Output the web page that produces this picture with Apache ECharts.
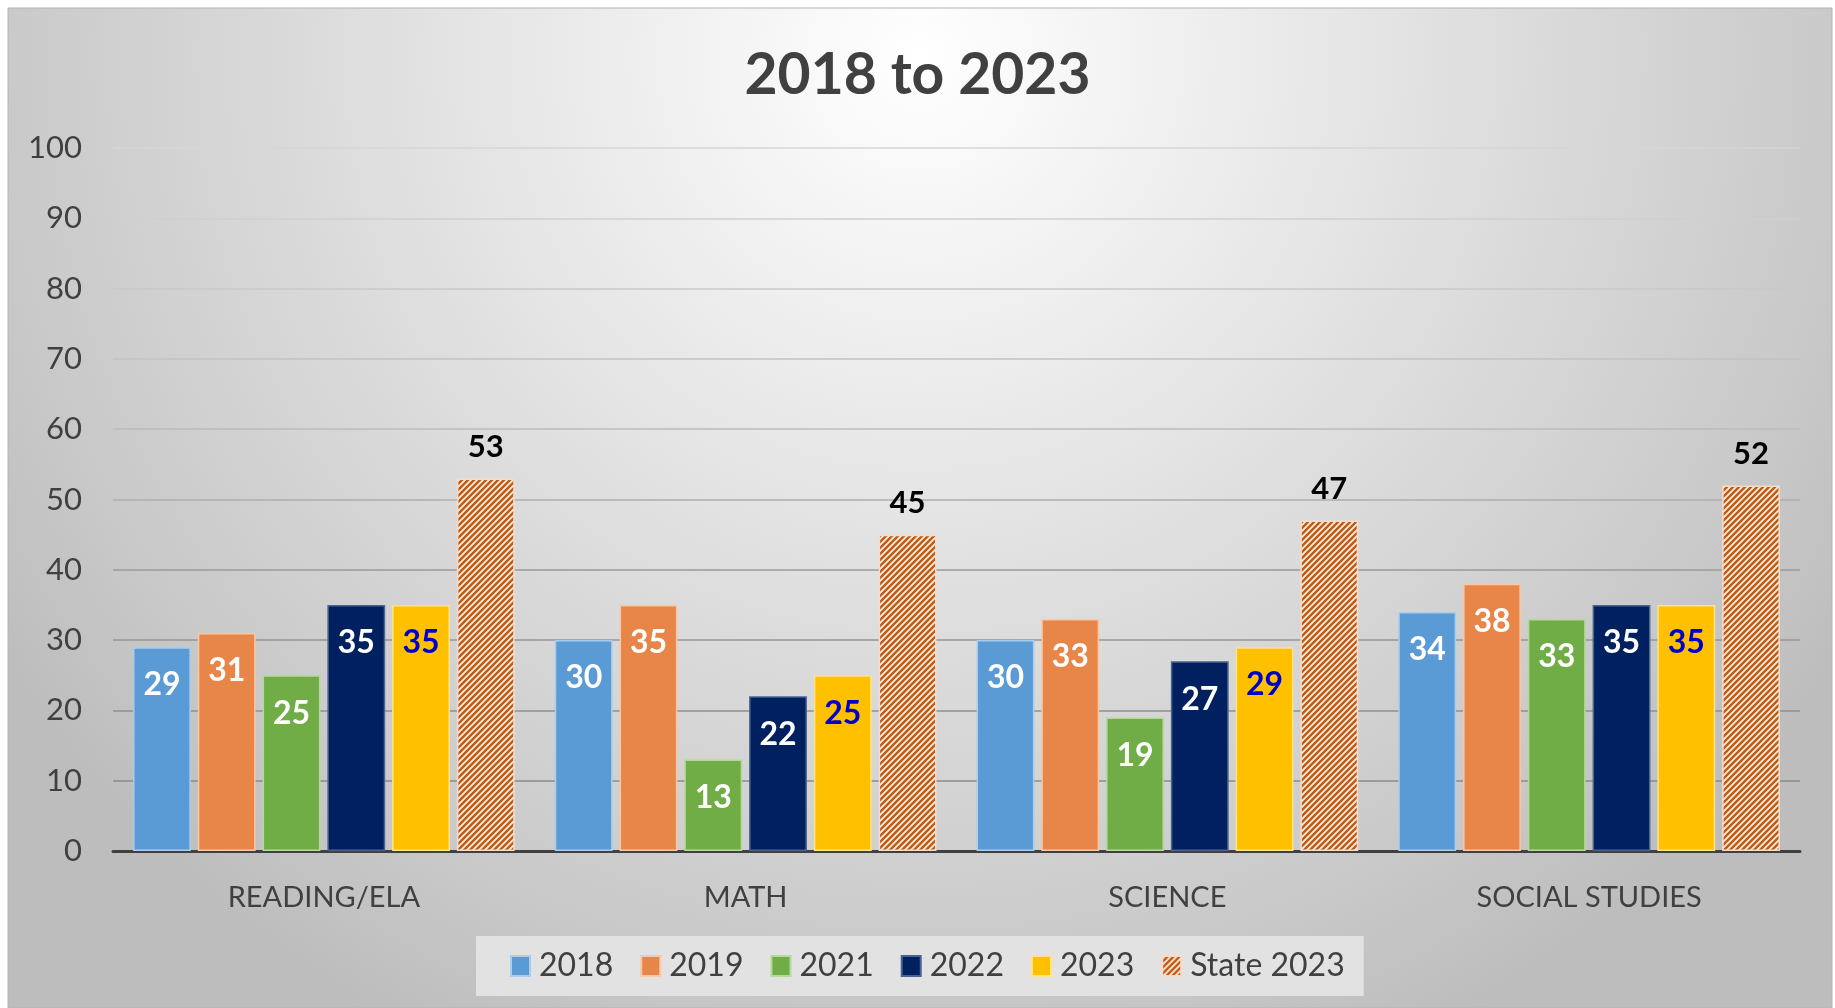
<!DOCTYPE html>
<html>
<head>
<meta charset="utf-8">
<title>2018 to 2023</title>
<script src="https://cdn.jsdelivr.net/npm/echarts@6/dist/echarts.min.js"></script>
<style>
  html, body { margin: 0; padding: 0; background: #ffffff; }
  #chart { width: 1835px; height: 1008px; }
</style>
</head>
<body>
<div id="chart"></div>
<script>
// Subjects along the x axis
const categories = ['READING/ELA', 'MATH', 'SCIENCE', 'SOCIAL STUDIES'];

// Percent proficient per year, one value per subject
const seriesNames = ['2018', '2019', '2021', '2022', '2023', 'State 2023'];
const values2018 = [29, 30, 30, 34];
const values2019 = [31, 35, 33, 38];
const values2021 = [25, 13, 19, 33];
const values2022 = [35, 22, 27, 35];
const values2023 = [35, 25, 29, 35];
const valuesState2023 = [53, 45, 47, 52];

// Value axis ticks
const yTicks = [0, 10, 20, 30, 40, 50, 60, 70, 80, 90, 100];

const FONT = 'Lato, "Open Sans", "Noto Sans", sans-serif';

// Diagonal hatch used for the state comparison bars
function makeHatch() {
  const s = 6;
  const c = document.createElement('canvas');
  c.width = s; c.height = s;
  const g = c.getContext('2d');
  g.fillStyle = '#fbeee4';
  g.fillRect(0, 0, s, s);
  g.strokeStyle = '#c55a11';
  g.lineWidth = 2.5;
  g.beginPath();
  g.moveTo(-1, s + 1); g.lineTo(s + 1, -1);
  g.moveTo(-1, 1); g.lineTo(1, -1);
  g.moveTo(s - 1, s + 1); g.lineTo(s + 1, s - 1);
  g.stroke();
  return c;
}
const hatch = { image: makeHatch(), repeat: 'repeat' };

const chart = echarts.init(document.getElementById('chart'), null, { renderer: 'canvas' });

function barSeries(name, data, color, border, labelColor) {
  return {
    name: name,
    type: 'bar',
    data: data,
    barGap: '12%',
    barCategoryGap: '9.5%',
    itemStyle: { color: color, borderColor: border, borderWidth: 1.5 },
    label: {
      show: true,
      position: 'insideTop',
      distance: 22,
      color: labelColor,
      fontFamily: FONT,
      fontWeight: 'bold',
      fontSize: 32
    },
    emphasis: { disabled: true }
  };
}

const series = [
  barSeries(seriesNames[0], values2018, '#5b9bd5', '#a9cdee', '#ffffff'),
  barSeries(seriesNames[1], values2019, '#e8864a', '#f7c7a6', '#ffffff'),
  barSeries(seriesNames[2], values2021, '#70ad47', '#b5d99b', '#ffffff'),
  barSeries(seriesNames[3], values2022, '#002060', '#4a6390', '#ffffff'),
  barSeries(seriesNames[4], values2023, '#ffc000', '#ffe38a', '#0000cc'),
  {
    name: seriesNames[5],
    type: 'bar',
    data: valuesState2023,
    barGap: '12%',
    barCategoryGap: '9.5%',
    itemStyle: { color: hatch, borderColor: '#f6dcc8', borderWidth: 1.5 },
    label: {
      show: true,
      position: 'top',
      distance: 16,
      color: '#000000',
      fontFamily: FONT,
      fontWeight: 'bold',
      fontSize: 31
    },
    emphasis: { disabled: true }
  }
];

const option = {
  animation: false,
  textStyle: { fontFamily: FONT },
  graphic: [{
    type: 'rect',
    z: -10,
    silent: true,
    shape: { x: 8, y: 8, width: 1824, height: 1000 },
    style: {
      fill: {
        type: 'radial', x: 0.5, y: 0.05, r: 1.1,
        colorStops: [
          { offset: 0, color: '#ffffff' },
          { offset: 0.85, color: '#c8c8c8' },
          { offset: 1, color: '#bdbdbd' }
        ]
      },
      stroke: '#b4b4b4',
      lineWidth: 1
    }
  }],
  title: {
    text: '2018 to 2023',
    left: 'center',
    top: 42,
    textStyle: { fontFamily: FONT, fontSize: 57, fontWeight: 'bold', color: '#404040' }
  },
  legend: {
    data: seriesNames,
    left: 476,
    top: 936,
    padding: [14, 19, 14, 34],
    backgroundColor: '#e2e2e2',
    itemWidth: 19,
    itemHeight: 20,
    itemGap: 27,
    icon: 'rect',
    textStyle: { fontFamily: FONT, fontSize: 32, color: '#404040', padding: [0, 0, 0, 4] }
  },
  grid: { left: 113, right: 35, top: 148, bottom: 157 },
  xAxis: {
    type: 'category',
    data: categories,
    axisLine: { lineStyle: { color: '#404040', width: 3 } },
    axisTick: { show: false },
    axisLabel: { margin: 32, fontFamily: FONT, fontSize: 29, color: '#404040' }
  },
  yAxis: {
    type: 'value',
    min: yTicks[0],
    max: yTicks[yTicks.length - 1],
    interval: yTicks[1] - yTicks[0],
    axisLine: { show: false },
    axisTick: { show: false },
    axisLabel: { margin: 31, fontFamily: FONT, fontSize: 31, color: '#404040' },
    splitLine: {
      lineStyle: {
        width: 1.5,
        color: {
          type: 'linear', global: true, x: 0, y: 148, x2: 0, y2: 851,
          colorStops: [
            { offset: 0, color: '#d6d6d6' },
            { offset: 0.45, color: '#b8b8b8' },
            { offset: 0.6, color: '#9a9a9a' },
            { offset: 1, color: '#858585' }
          ]
        }
      }
    }
  },
  series: series
};

chart.setOption(option);
</script>
</body>
</html>
